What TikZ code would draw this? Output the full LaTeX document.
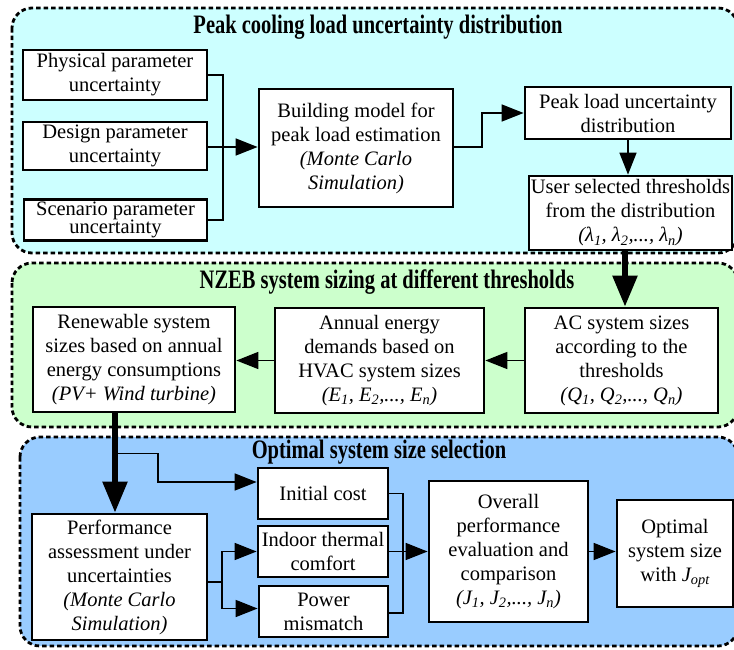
\documentclass[tikz,border=0pt]{standalone}
\usepackage{fontspec}
\setmainfont{Liberation Serif}
\usetikzlibrary{arrows.meta,calc}
\definecolor{pcyan}{HTML}{CCFFFF}
\definecolor{pgreen}{HTML}{CCFFCC}
\definecolor{pblue}{HTML}{99CCFF}
\newcommand{\lsub}[1]{\textsubscript{#1}}
\tikzset{
  panel/.style={draw, line width=2.8pt, dash pattern=on 4.5pt off 3pt, rounded corners=20pt},
  box/.style={draw, line width=2.8pt, fill=white, align=center, inner sep=0pt,
    font=\fontsize{20.5}{24}\selectfont},
  ttl/.style={font=\bfseries\fontsize{20.5}{24}\selectfont, inner sep=0pt},
  link/.style={line width=1.6pt},
  arr/.style={link, -{Triangle[length=22pt,width=17pt]}},
  bigarr/.style={line width=5.5pt, -{Triangle[length=31pt,width=24pt]}},
}
\begin{document}
\begin{tikzpicture}[x=1pt,y=-1pt]
\useasboundingbox (0,0) rectangle (734,649);

% stage panels
\draw[panel, fill=pcyan]  (12,8)   rectangle (738,253);
\draw[panel, fill=pgreen] (12,263) rectangle (738,427);
\draw[panel, fill=pblue]  (20,437) rectangle (738,646);

\node[ttl] (t1) at (378,27)  {\scalebox{1}[1.3]{Peak cooling load uncertainty distribution}};
\node[ttl] (t2) at (387,282) {\scalebox{1}[1.3]{NZEB system sizing at different thresholds}};
\node[ttl] (t3) at (379,452) {\scalebox{1}[1.3]{Optimal system size selection}};

% stage 1
\node[box, minimum width=184pt, minimum height=50pt] (phys) at (115,75)
  {Physical parameter\\uncertainty};
\node[box, minimum width=184pt, minimum height=48pt] (design) at (115,146)
  {Design parameter\\uncertainty};
\node[box, minimum width=183pt, minimum height=41pt, font=\fontsize{20.5}{18.5}\selectfont]
  (scen) at (115.5,220) {Scenario parameter\\uncertainty};
\node[box, minimum width=194pt, minimum height=118pt] (build) at (356,148)
  {Building model for\\peak load estimation\\\textit{(Monte Carlo}\\\textit{Simulation)}};
\node[box, minimum width=206pt, minimum height=52pt] (peak) at (628,113)
  {Peak load uncertainty\\distribution};
\node[box, minimum width=203pt, minimum height=74pt] (user) at (630.5,213)
  {User selected thresholds\\from the distribution\\\textit{(λ\lsub{1}, λ\lsub{2},..., λ\lsub{n})}};

% stage 2
\node[box, minimum width=202pt, minimum height=105pt] (ren) at (134,359.5)
  {Renewable system\\sizes based on annual\\energy consumptions\\\textit{(PV+ Wind turbine)}};
\node[box, minimum width=209pt, minimum height=105pt] (annual) at (379.5,360.5)
  {Annual energy\\demands based on\\HVAC system sizes\\\textit{(E\lsub{1}, E\lsub{2},..., E\lsub{n})}};
\node[box, minimum width=193pt, minimum height=105pt] (ac) at (621.5,360.5)
  {AC system sizes\\according to the\\thresholds\\\textit{(Q\lsub{1}, Q\lsub{2},..., Q\lsub{n})}};

% stage 3
\node[box, minimum width=175pt, minimum height=126pt] (perf) at (119.5,577)
  {Performance\\assessment under\\uncertainties\\\textit{(Monte Carlo}\\\textit{Simulation)}};
\node[box, minimum width=130pt, minimum height=51pt] (init) at (323,493.5)
  {Initial cost};
\node[box, minimum width=130pt, minimum height=51pt] (indoor) at (323,551.5)
  {Indoor thermal\\comfort};
\node[box, minimum width=129pt, minimum height=51pt] (power) at (323.5,611.5)
  {Power\\mismatch};
\node[box, minimum width=159pt, minimum height=141pt] (overall) at (508.5,551.5)
  {Overall\\performance\\evaluation and\\comparison\\\textit{(J\lsub{1}, J\lsub{2},..., J\lsub{n})}};
\node[box, minimum width=116pt, minimum height=107pt] (optimal) at (675,553.5)
  {Optimal\\system size\\with \textit{J\lsub{opt}}};

% stage 1 connectors
\coordinate (j1) at (223,147);
\draw[link] (phys.east) -| (j1) |- (scen.east);
\draw[arr] (design.east |- j1) -- (build.west |- j1);
\coordinate (k1) at (482,147);
\draw[arr] (build.east |- k1) -- (k1) |- (peak.west);
\draw[arr] (peak.south) -- (peak.south |- user.north);

% into stage 2
\coordinate (ua) at ($(user.south)+(-5.5,0)$);
\draw[bigarr] (ua) -- (ua |- ac.north);
\draw[arr] (ac.west) -- (annual.east |- ac.west);
\draw[arr] (annual.west) -- (ren.east |- annual.west);

% into stage 3
\coordinate (ra) at ($(ren.south)+(-19,0)$);
\draw[bigarr] (ra) -- (ra |- perf.north);
\coordinate (b0) at ($(ra)+(0,40)$);
\coordinate (b1) at (158,482);
\draw[arr] (b0) -| (b1) -- (b1 -| init.west);

\coordinate (p0) at (222,582);
\draw[link] (perf.east |- p0) -- (p0);
\draw[arr] (p0) |- (indoor.west);
\draw[arr] (p0) |- ($(power.west)+(0,-3)$);

\coordinate (q0) at (403,551.5);
\draw[link] (init.east) -| (q0);
\draw[link] ($(power.east)+(0,1.5)$) -| (q0);
\draw[arr] (indoor.east) -- (overall.west |- indoor.east);
\draw[arr] (overall.east) -- (optimal.west |- overall.east);
\end{tikzpicture}
\end{document}
